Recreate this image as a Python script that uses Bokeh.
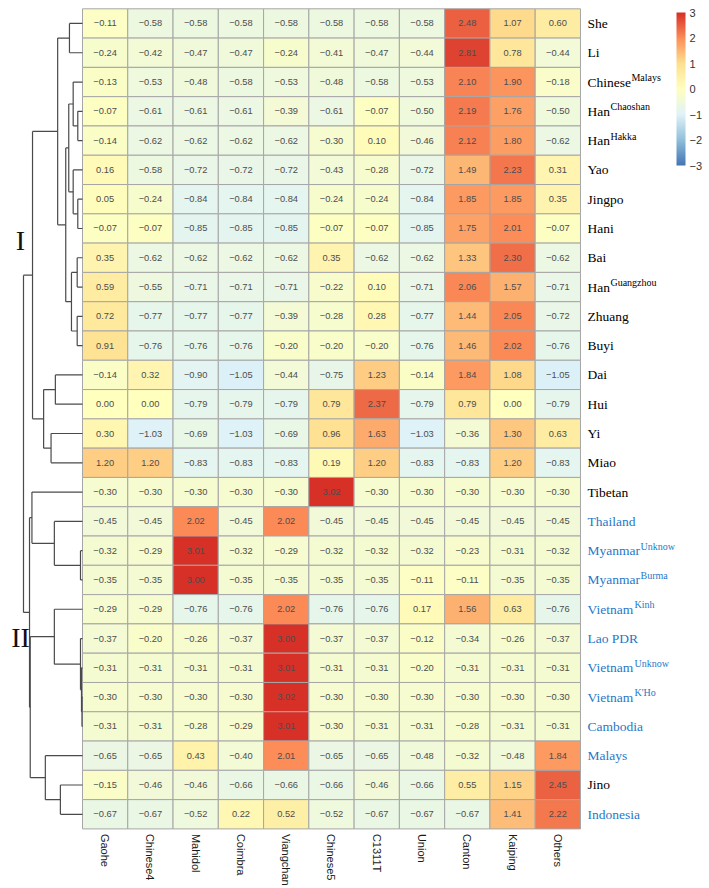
import numpy as np
from bokeh.plotting import figure
from bokeh.models import Range1d, LinearColorMapper, ColorBar, FixedTicker, ColumnDataSource
from bokeh.transform import transform
from bokeh.core.properties import value
from bokeh.embed import file_html
from bokeh.resources import INLINE

# ---------------- data ----------------
columns = ["Gaohe", "Chinese4", "Mahidol", "Coimbra", "Viangchan", "Chinese5",
           "C1311T", "Union", "Canton", "Kaiping", "Others"]

row_base = ["She", "Li", "Chinese", "Han", "Han", "Yao", "Jingpo", "Hani", "Bai", "Han",
            "Zhuang", "Buyi", "Dai", "Hui", "Yi", "Miao", "Tibetan", "Thailand", "Myanmar",
            "Myanmar", "Vietnam", "Lao PDR", "Vietnam", "Vietnam", "Cambodia", "Malays",
            "Jino", "Indonesia"]
row_sup = ["", "", "Malays", "Chaoshan", "Hakka", "", "", "", "", "Guangzhou",
           "", "", "", "", "", "", "", "", "Unknow",
           "Burma", "Kinh", "", "Unknow", "K'Ho", "", "",
           "", ""]
row_group = ["ethnic"] * 17 + ["country"] * 9 + ["ethnic", "country"]

she       = [-0.11, -0.58, -0.58, -0.58, -0.58, -0.58, -0.58, -0.58, 2.48, 1.07, 0.60]
li        = [-0.24, -0.42, -0.47, -0.47, -0.24, -0.41, -0.47, -0.44, 2.81, 0.78, -0.44]
chinese_m = [-0.13, -0.53, -0.48, -0.58, -0.53, -0.48, -0.58, -0.53, 2.10, 1.90, -0.18]
han_cs    = [-0.07, -0.61, -0.61, -0.61, -0.39, -0.61, -0.07, -0.50, 2.19, 1.76, -0.50]
han_hk    = [-0.14, -0.62, -0.62, -0.62, -0.62, -0.30, 0.10, -0.46, 2.12, 1.80, -0.62]
yao       = [0.16, -0.58, -0.72, -0.72, -0.72, -0.43, -0.28, -0.72, 1.49, 2.23, 0.31]
jingpo    = [0.05, -0.24, -0.84, -0.84, -0.84, -0.24, -0.24, -0.84, 1.85, 1.85, 0.35]
hani      = [-0.07, -0.07, -0.85, -0.85, -0.85, -0.07, -0.07, -0.85, 1.75, 2.01, -0.07]
bai       = [0.35, -0.62, -0.62, -0.62, -0.62, 0.35, -0.62, -0.62, 1.33, 2.30, -0.62]
han_gz    = [0.59, -0.55, -0.71, -0.71, -0.71, -0.22, 0.10, -0.71, 2.06, 1.57, -0.71]
zhuang    = [0.72, -0.77, -0.77, -0.77, -0.39, -0.28, 0.28, -0.77, 1.44, 2.05, -0.72]
buyi      = [0.91, -0.76, -0.76, -0.76, -0.20, -0.20, -0.20, -0.76, 1.46, 2.02, -0.76]
dai       = [-0.14, 0.32, -0.90, -1.05, -0.44, -0.75, 1.23, -0.14, 1.84, 1.08, -1.05]
hui       = [0.00, 0.00, -0.79, -0.79, -0.79, 0.79, 2.37, -0.79, 0.79, 0.00, -0.79]
yi        = [0.30, -1.03, -0.69, -1.03, -0.69, 0.96, 1.63, -1.03, -0.36, 1.30, 0.63]
miao      = [1.20, 1.20, -0.83, -0.83, -0.83, 0.19, 1.20, -0.83, -0.83, 1.20, -0.83]
tibetan   = [-0.30, -0.30, -0.30, -0.30, -0.30, 3.02, -0.30, -0.30, -0.30, -0.30, -0.30]
thailand  = [-0.45, -0.45, 2.02, -0.45, 2.02, -0.45, -0.45, -0.45, -0.45, -0.45, -0.45]
myan_unk  = [-0.32, -0.29, 3.01, -0.32, -0.29, -0.32, -0.32, -0.32, -0.23, -0.31, -0.32]
myan_bur  = [-0.35, -0.35, 3.00, -0.35, -0.35, -0.35, -0.35, -0.11, -0.11, -0.35, -0.35]
viet_kinh = [-0.29, -0.29, -0.76, -0.76, 2.02, -0.76, -0.76, 0.17, 1.56, 0.63, -0.76]
lao       = [-0.37, -0.20, -0.26, -0.37, 3.00, -0.37, -0.37, -0.12, -0.34, -0.26, -0.37]
viet_unk  = [-0.31, -0.31, -0.31, -0.31, 3.01, -0.31, -0.31, -0.20, -0.31, -0.31, -0.31]
viet_kho  = [-0.30, -0.30, -0.30, -0.30, 3.02, -0.30, -0.30, -0.30, -0.30, -0.30, -0.30]
cambodia  = [-0.31, -0.31, -0.28, -0.29, 3.01, -0.30, -0.31, -0.31, -0.28, -0.31, -0.31]
malays    = [-0.65, -0.65, 0.43, -0.40, 2.01, -0.65, -0.65, -0.48, -0.32, -0.48, 1.84]
jino      = [-0.15, -0.46, -0.46, -0.66, -0.66, -0.66, -0.46, -0.66, 0.55, 1.15, 2.45]
indonesia = [-0.67, -0.67, -0.52, 0.22, 0.52, -0.52, -0.67, -0.67, -0.67, 1.41, 2.22]

rows = [she, li, chinese_m, han_cs, han_hk, yao, jingpo, hani, bai, han_gz, zhuang, buyi,
        dai, hui, yi, miao, tibetan, thailand, myan_unk, myan_bur, viet_kinh, lao, viet_unk,
        viet_kho, cambodia, malays, jino, indonesia]

# row dendrogram (leaves 0..27, merged nodes numbered 28, 29, ... in order)
dend_left   = [0, 3, 2, 6, 5, 30, 8, 10, 34, 33, 28, 12, 14, 39, 38, 18, 17, 16, 23, 22, 21, 20, 26, 25, 49, 45, 42]
dend_right  = [1, 4, 29, 7, 31, 32, 9, 11, 35, 36, 37, 13, 15, 40, 41, 19, 43, 44, 24, 46, 47, 48, 27, 50, 51, 52, 53]
dend_height = [0.221, 0.080, 0.158, 0.080, 0.158, 0.233, 0.090, 0.090, 0.187, 0.284, 0.421,
               0.460, 0.533, 0.659, 0.847, 0.034, 0.477, 0.857, 0.009, 0.017, 0.034, 0.477,
               0.375, 0.630, 0.886, 0.898, 1.000]

cluster_labels = ["I", "II"]
cluster_rows = [7.9, 21.46]   # position (in rows) of the cluster labels

cbar_ticks = [-3, -2, -1, 0, 1, 2, 3]

# ---------------- layout ----------------
W, H = 709, 888
cell_w, cell_h = 45.27, 29.29
grid_left, grid_top = 82.0, 8.3          # canvas px
n_rows, n_cols = len(rows), len(columns)

x_start = -grid_left / cell_w
x_end = (W - grid_left) / cell_w
y_top = -grid_top / cell_h
y_bottom = (H - grid_top) / cell_h

p = figure(width=W, height=H, output_backend="svg", toolbar_location=None,
           x_range=Range1d(x_start, x_end), y_range=Range1d(y_bottom, y_top),
           x_axis_type=None, y_axis_type=None, min_border=0)
p.grid.visible = False
p.outline_line_color = None
p.background_fill_color = "white"
p.border_fill_color = "white"

# palette: reversed RdYlBu (7) interpolated
base = ["#4575B4", "#91BFDB", "#E0F3F8", "#FFFFBF", "#FEE090", "#FC8D59", "#D73027"]
rgb = np.array([[int(c[i:i + 2], 16) for i in (1, 3, 5)] for c in base], float)
t = np.linspace(0, 6, 256)
pal = []
for tt in t:
    i = min(int(tt), 5)
    f = tt - i
    c = rgb[i] * (1 - f) + rgb[i + 1] * f
    pal.append("#%02x%02x%02x" % tuple(int(round(v)) for v in c))
mapper = LinearColorMapper(palette=pal, low=-3, high=3)

xs, ys, vals, txt = [], [], [], []
for r, row in enumerate(rows):
    for c, v in enumerate(row):
        xs.append(c + 0.5)
        ys.append(r + 0.5)
        vals.append(v)
        txt.append(("%.2f" % v).replace("-", "\u2212"))
src = ColumnDataSource(dict(x=xs, y=ys, v=vals, t=txt))
p.rect(x="x", y="y", width=1, height=1, source=src, fill_color=transform("v", mapper),
       line_color="#a6a6a6", line_width=1)
p.text(x="x", y="y", text="t", source=src, text_align="center", text_baseline="middle",
       text_font=value("Liberation Sans"), text_font_size="9.3px", text_color="#4d4d4d")

# column labels (rotated)
col_y = n_rows + 5 / cell_h
p.text(x=[c + 0.5 for c in range(n_cols)], y=[col_y] * n_cols, text=columns,
       angle=-np.pi / 2, text_align="left", text_baseline="middle",
       text_font=value("Liberation Sans"), text_font_size="11px", text_color="#1a1a1a")

# row labels with superscripts
TIMES_W = {'C': 667, 'h': 500, 'i': 278, 'n': 500, 'e': 444, 's': 389, 'H': 722, 'a': 444,
           'M': 889, 'y': 500, 'm': 778, 'r': 333, 'V': 722, 't': 278}
base_size, sup_size = 13.5, 10
lab_x = n_cols + 7 / cell_w
col_map = {"ethnic": "#000000", "country": "#1f78c8"}
lab_colors = [col_map[g] for g in row_group]
p.text(x=[lab_x] * n_rows, y=[r + 0.5 for r in range(n_rows)], text=row_base,
       text_color=lab_colors, text_align="left", text_baseline="middle",
       text_font=value("Liberation Serif"), text_font_size=f"{base_size}px")
sx, sy, st, sc = [], [], [], []
for r in range(n_rows):
    if row_sup[r]:
        wpx = sum(TIMES_W.get(ch, 500) for ch in row_base[r]) / 1000 * base_size
        sx.append(lab_x + (wpx + 0.5) / cell_w)
        sy.append(r + 0.5 - 4.5 / cell_h)
        st.append(row_sup[r])
        sc.append(lab_colors[r])
p.text(x=sx, y=sy, text=st, text_color=sc, text_align="left", text_baseline="middle",
       text_font=value("Liberation Serif"), text_font_size=f"{sup_size}px")

# dendrogram
dend_w = 59.0 / cell_w   # width of dendrogram in data units
node_y = {i: i + 0.5 for i in range(n_rows)}
node_h = {i: 0.0 for i in range(n_rows)}
x0s, y0s, x1s, y1s = [], [], [], []
for k, (a, b, h) in enumerate(zip(dend_left, dend_right, dend_height)):
    nid = n_rows + k
    xh = -h * dend_w
    ya, yb = node_y[a], node_y[b]
    x0s += [xh, xh, xh]
    y0s += [ya, ya, yb]
    x1s += [xh, -node_h[a] * dend_w, -node_h[b] * dend_w]
    y1s += [yb, ya, yb]
    node_y[nid] = (ya + yb) / 2
    node_h[nid] = h
p.segment(x0=x0s, y0=y0s, x1=x1s, y1=y1s, line_color="#4a4a4a", line_width=1.2)

# cluster labels
p.text(x=[-62 / cell_w] * 2, y=cluster_rows, text=cluster_labels, text_align="center",
       text_baseline="middle", text_font=value("Liberation Serif"), text_font_size="28px",
       text_color="#111111")

# colour bar
cb = ColorBar(color_mapper=mapper, ticker=FixedTicker(ticks=cbar_ticks), width=9, height=153,
              location=(676, 723), padding=0, margin=0, label_standoff=4,
              major_label_text_font_size="11px", major_label_text_color="#333333",
              major_label_overrides={k: str(k).replace("-", "\u2212") for k in cbar_ticks},
              major_tick_line_color=None, bar_line_color=None, border_line_color=None,
              background_fill_alpha=0)
p.add_layout(cb, "center")

open("out.html", "w").write(file_html(p, INLINE))
